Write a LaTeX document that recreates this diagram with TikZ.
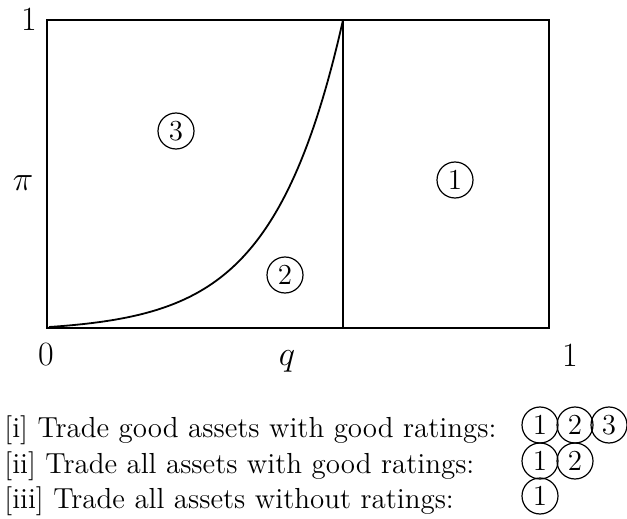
\documentclass[tikz,border=0pt]{standalone}
\begin{document}
\begin{tikzpicture}[x=0.5pt,y=-0.5pt,
  frame/.style={line width=0.9pt},
  bigc/.style={circle,draw,line width=0.6pt,inner sep=0pt,minimum size=18pt,font=\fontsize{14.5}{16}\selectfont},
  smallc/.style={circle,draw,line width=0.6pt,inner sep=0pt,minimum size=18pt,font=\fontsize{14.5}{16}\selectfont},
  axlab/.style={font=\fontsize{17}{20}\selectfont,inner sep=0pt},
  legtxt/.style={anchor=base west,inner sep=0pt,font=\fontsize{14.5}{17}\selectfont}]
\useasboundingbox (0,0) rectangle (627,519);
\coordinate (bl) at (47,328);
\coordinate (tr) at (549,20);
\coordinate (mt) at (343,20);
\coordinate (mb) at (343,328);
\draw[frame] (bl) rectangle (tr);
\draw[frame] (mt) -- (mb);
\draw[frame,variable=\t,domain=0:1,samples=60,smooth] plot ({49+294*\t},{327-4.6737*(exp(4.2*\t)-1)});
\node[axlab] (one) at (29,19) {1};
\node[axlab] (pi) at (23,183) {$\pi$};
\node[axlab] (zero) at (46,355) {0};
\node[axlab] (oner) at (570,355) {1};
\node[axlab] (q) at (287,361) {$q$};
\node[bigc] (r3) at (176,131) {3};
\node[bigc] (r1) at (455,180) {1};
\node[bigc] (r2) at (285,275) {2};
\node[legtxt] (l1) at (4,437) {[i] Trade good assets with good ratings:};
\node[legtxt] (l2) at (4,473) {[ii] Trade all assets with good ratings:};
\node[legtxt] (l3) at (4,508) {[iii] Trade all assets without ratings:};
\node[smallc] (a1) at (540,425) {1};
\node[smallc] (a2) at (575,425) {2};
\node[smallc] (a3) at (609,425) {3};
\node[smallc] (b1) at (540,461) {1};
\node[smallc] (b2) at (575,461) {2};
\node[smallc] (c1) at (540,496) {1};
\end{tikzpicture}
\end{document}
